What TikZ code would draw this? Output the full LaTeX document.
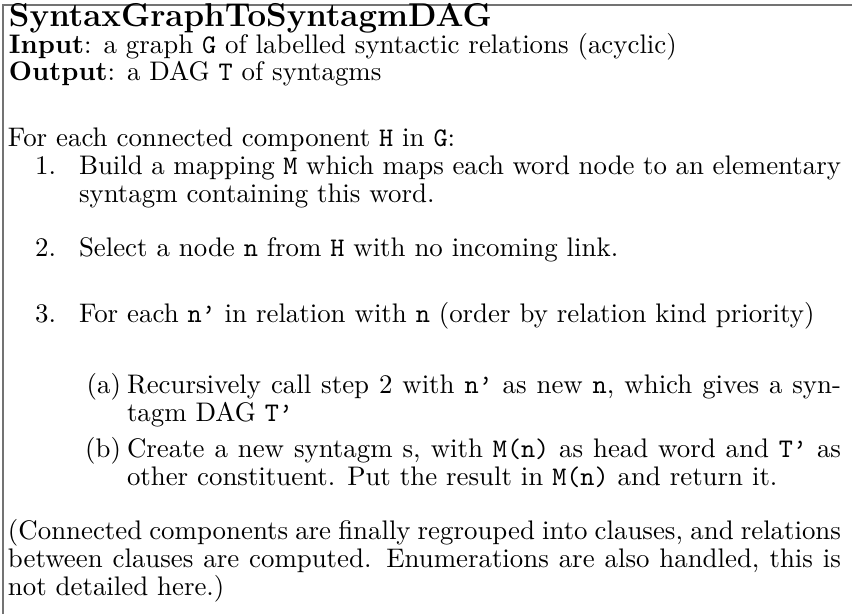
\documentclass[tikz,border=0pt]{standalone}
\newlength{\pxu}
\setlength{\pxu}{0.3724pt}
% justified line of a given width (in px units)
\newcommand{\jline}[2]{\makebox[#1\pxu][s]{#2}}
\tikzset{
  pxgrid/.style={x=\pxu, y=-\pxu},
  txt/.style={anchor=base west, inner sep=0pt, outer sep=0pt, font=\fontsize{10}{12}\selectfont},
  lbl/.style={txt, anchor=base east},
  ttl/.style={txt, font=\fontsize{12.3}{14}\selectfont\bfseries},
  frame/.style={draw=black!55, line width=0.7pt}
}
\begin{document}
\begin{tikzpicture}[pxgrid]
\useasboundingbox (0,0) rectangle (852,614);
% open frame: left and top rules
\coordinate (fb) at (3,614);
\coordinate (fc) at (3,5);
\coordinate (fr) at (852,5);
\draw[frame] (fb) -- (fc) -- (fr);

% header
\node[ttl] (title) at (9,27) {SyntaxGraphToSyntagmDAG};
\node[txt] (inp) at (9,54) {\textbf{Input}: a graph \texttt{G} of labelled syntactic relations (acyclic)};
\node[txt] (outp) at (9,81) {\textbf{Output}: a DAG \texttt{T} of syntagms};

% main loop
\node[txt] (loop) at (8,147) {For each connected component \texttt{H} in \texttt{G}:};

\node[lbl] (l1) at (56,175) {1.};
\node[txt] (s1a) at (79,175) {\jline{762}{Build a mapping \texttt{M} which maps each word node to an elementary}};
\node[txt] (s1b) at (79,203) {syntagm containing this word.};

\node[lbl] (l2) at (56,257) {2.};
\node[txt] (s2) at (79,257) {Select a node \texttt{n} from \texttt{H} with no incoming link.};

\node[lbl] (l3) at (56,323) {3.};
\node[txt] (s3) at (79,323) {For each \texttt{n’} in relation with \texttt{n} (order by relation kind priority)};

\node[lbl] (la) at (121,393) {(a)};
\node[txt] (sa1) at (127,393) {\jline{714}{Recursively call step 2 with \texttt{n’} as new \texttt{n}, which gives a syn-}};
\node[txt] (sa2) at (127,421) {tagm DAG \texttt{T’}};

\node[lbl] (lb) at (121,457) {(b)};
\node[txt] (sb1) at (127,457) {\jline{714}{Create a new syntagm s, with \texttt{M(n)} as head word and \texttt{T’} as}};
\node[txt] (sb2) at (127,485) {other constituent. Put the result in \texttt{M(n)} and return it.};

% closing remark
\node[txt] (r1) at (8,539) {\jline{833}{(Connected components are finally regrouped into clauses, and relations}};
\node[txt] (r2) at (8,567) {\jline{833}{between clauses are computed.  Enumerations are also handled, this is}};
\node[txt] (r3) at (8,595) {not detailed here.)};
\end{tikzpicture}
\end{document}
